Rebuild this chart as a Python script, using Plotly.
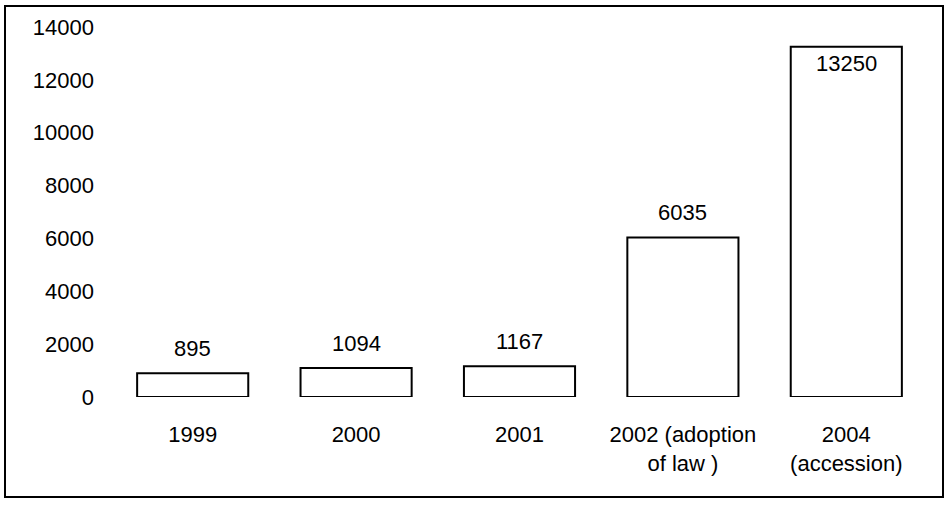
import plotly.graph_objects as go

categories = ["1999", "2000", "2001", "2002 (adoption<br>of law )", "2004<br>(accession)"]
values = [895, 1094, 1167, 6035, 13250]
y_ticks = [0, 2000, 4000, 6000, 8000, 10000, 12000, 14000]
y_tick_labels = ["0", "2000", "4000", "6000", "8000", "10000", "12000", "14000"]

FONT = dict(family="Liberation Sans, Arial, sans-serif", size=22, color="black")

fig = go.Figure()
fig.add_trace(go.Bar(
    x=categories, y=values,
    marker=dict(color="white", line=dict(color="black", width=2)),
    width=0.68,
))

y_max = 14000
for i, v in enumerate(values):
    inside = v > 0.9 * y_max
    fig.add_annotation(
        x=i, y=v, text=str(v), showarrow=False,
        xref="x", yref="y", yanchor="middle",
        yshift=-17 if inside else 25,
        font=FONT,
    )

# figure border
L, R, T, B = 111, 928, 27, 397
W, H = 947, 505
fig.add_shape(
    type="rect", xref="paper", yref="paper",
    x0=(5 - L) / (R - L), x1=(943 - L) / (R - L),
    y0=(B - 497) / (B - T), y1=(B - 6) / (B - T),
    line=dict(color="black", width=2), fillcolor="rgba(0,0,0,0)",
)

fig.update_layout(
    width=W, height=H,
    margin=dict(l=L, r=W - R, t=T, b=H - B, pad=0),
    paper_bgcolor="white", plot_bgcolor="white",
    font=FONT,
    showlegend=False,
    bargap=0.32,
)
fig.update_xaxes(type="category", range=[-0.5, len(categories) - 0.5],
                 showline=False, showgrid=False, zeroline=False,
                 ticks="", ticklabelstandoff=22, tickfont=FONT)
fig.update_yaxes(range=[0, y_max], tickvals=y_ticks, ticktext=y_tick_labels,
                 showline=False, showgrid=False, zeroline=False, ticks="",
                 ticklabelstandoff=16, tickfont=FONT)

fig.write_html("out.html", config={"displayModeBar": False},
               post_script="document.body.style.margin='0';document.body.style.padding='0';")
